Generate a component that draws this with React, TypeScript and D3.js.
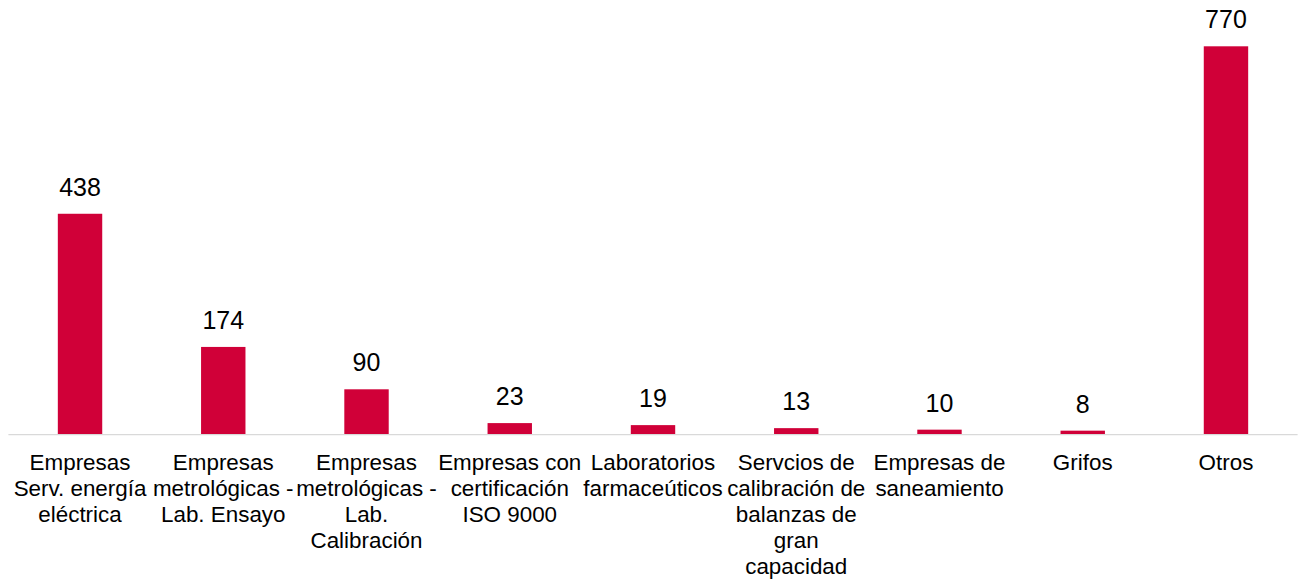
import React, { useEffect, useRef } from "react";
import * as d3 from "d3";

// Chart data
const categories: string[][] = [
  ["Empresas", "Serv. energía", "eléctrica"],
  ["Empresas", "metrológicas -", "Lab. Ensayo"],
  ["Empresas", "metrológicas -", "Lab.", "Calibración"],
  ["Empresas con", "certificación", "ISO 9000"],
  ["Laboratorios", "farmaceúticos"],
  ["Servcios de", "calibración de", "balanzas de", "gran", "capacidad"],
  ["Empresas de", "saneamiento"],
  ["Grifos"],
  ["Otros"],
];
const values: number[] = [438, 174, 90, 23, 19, 13, 10, 8, 770];

const App = () => {
  const chartRef = useRef<HTMLDivElement>(null);

  useEffect(() => {
    document.body.style.margin = "0";
    d3.select(chartRef.current).select("svg").remove();

    const width = 1304;
    const height = 579;
    const font = "'Liberation Sans', Arial, sans-serif";

    const svg = d3
      .select(chartRef.current)
      .append("svg")
      .attr("width", width)
      .attr("height", height)
      .style("display", "block")
      .style("font-family", font);

    const ids = categories.map((_, i) => String(i));

    const x = d3
      .scaleBand<string>()
      .domain(ids)
      .range([8.4, 1297.6])
      .paddingInner(0.69)
      .paddingOuter(0.345);

    const y = d3.scaleLinear().domain([0, 770]).range([434.7, 46.3]);

    // Bars
    svg
      .selectAll("rect.bar")
      .data(values)
      .join("rect")
      .attr("class", "bar")
      .attr("x", (_, i) => x(ids[i])!)
      .attr("y", (d) => y(d))
      .attr("width", x.bandwidth())
      .attr("height", (d) => y(0) - y(d))
      .attr("fill", "#d00038");

    // Baseline
    svg
      .append("line")
      .attr("x1", 8.4)
      .attr("x2", 1297.6)
      .attr("y1", y(0))
      .attr("y2", y(0))
      .attr("stroke", "#d9d9d9")
      .attr("stroke-width", 1.3);

    // Value labels
    svg
      .selectAll("text.value")
      .data(values)
      .join("text")
      .attr("class", "value")
      .attr("x", (_, i) => x(ids[i])! + x.bandwidth() / 2)
      .attr("y", (d) => y(d) - 18)
      .attr("text-anchor", "middle")
      .style("font-size", "25px")
      .style("fill", "#000")
      .text((d) => d);

    // Category labels
    const cats = svg
      .selectAll("text.cat")
      .data(categories)
      .join("text")
      .attr("class", "cat")
      .attr("text-anchor", "middle")
      .style("font-size", "22.4px")
      .style("fill", "#000");

    cats
      .selectAll("tspan")
      .data((d, i) => d.map((line) => ({ line, i })))
      .join("tspan")
      .attr("x", (d) => x(ids[d.i])! + x.bandwidth() / 2)
      .attr("y", (_, j) => y(0) + 35.5 + j * 26)
      .text((d) => d.line);
  }, []);

  return <div ref={chartRef}></div>;
};

export default App;
